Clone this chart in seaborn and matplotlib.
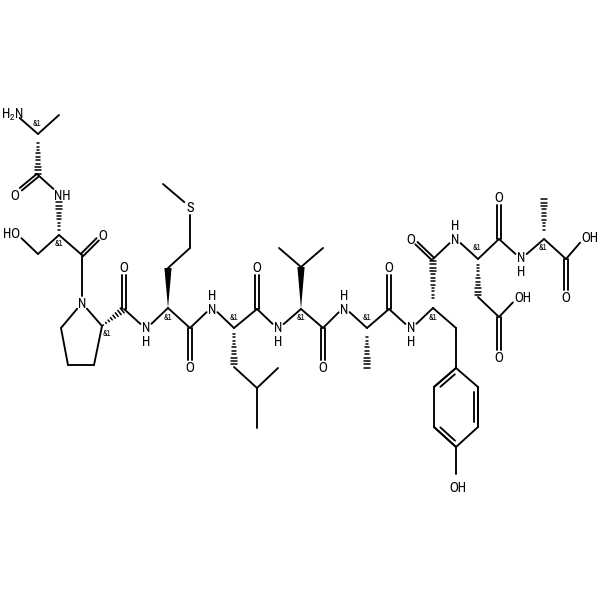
import numpy as np
import pandas as pd
import matplotlib
matplotlib.use('Agg')
import matplotlib.pyplot as plt
import seaborn as sns

# atoms (pixels)
atom_x = [14, 38, 59, 38, 15, 59, 59, 38, 16, 82, 103,          # 0-10  Ala, Ser
          82, 102, 61, 68, 94, 124, 124, 146,                   # 11-18 Pro
          168, 168, 190, 190, 163, 190, 190, 212,               # 19-26 Met
          234, 234, 257, 278, 257, 257, 257, 278,               # 27-34 Leu
          301, 301, 279, 323, 323, 323, 344,                    # 35-41 Val
          367, 367, 389, 389, 411,                              # 42-46 Ala
          433, 433, 411, 455, 456, 456, 478, 478, 456, 434, 434, 456,  # 47-58 Tyr
          478, 478, 499, 518, 499, 499, 499, 521,               # 59-66 Asp
          544, 544, 566, 585, 566]                              # 67-71 Ala
atom_y = [113, 134, 115, 175, 194, 194, 235, 254, 233, 255, 234,
          303, 326, 328, 365, 365, 309, 267, 329,
          308, 268, 248, 207, 184, 328, 367, 307,
          328, 367, 388, 368, 428, 309, 267, 329,
          309, 267, 248, 248, 328, 367, 307,
          328, 368, 309, 267, 329,
          308, 259, 238, 238, 328, 368, 387, 427, 447, 427, 387, 481,
          259, 297, 317, 297, 357, 239, 197, 259,
          239, 198, 259, 237, 297]

# atoms that carry a label, bonds stop short of them
hetero = [0, 4, 5, 8, 10, 11, 17, 18, 22, 25, 26, 33, 34, 40, 41, 45, 46,
          49, 50, 58, 62, 63, 65, 66, 70, 71]

single_bonds = [(0, 1), (1, 2), (3, 5), (6, 7), (7, 8), (6, 9), (9, 11),
                (11, 12), (11, 13), (13, 14), (14, 15), (15, 12), (16, 18), (18, 19),
                (20, 21), (21, 22), (22, 23), (19, 24), (24, 26), (26, 27),
                (28, 29), (29, 30), (29, 31), (27, 32), (32, 34), (34, 35),
                (36, 37), (36, 38), (35, 39), (39, 41), (41, 42), (42, 44), (44, 46),
                (46, 47), (48, 50), (50, 59), (47, 51), (51, 52), (53, 52), (53, 54),
                (54, 55), (55, 56), (56, 57), (57, 52), (55, 58),
                (60, 61), (61, 62), (59, 64), (64, 66), (66, 67), (67, 69), (69, 70)]
carbonyls = [(3, 4), (9, 10), (16, 17), (24, 25), (32, 33), (39, 40), (44, 45),
             (48, 49), (61, 63), (64, 65), (69, 71)]
ring_doubles = [(52, 57), (53, 54), (55, 56)]
hash_bonds = [(1, 3), (6, 5), (12, 16), (27, 28), (42, 43), (47, 48), (59, 60), (67, 68)]
wedge_bonds = [(19, 20), (35, 36)]

# text on the drawing
label_text = ['H$_2$N', 'O', 'NH', 'HO', 'O', 'N', 'O', 'N', 'H', 'S', 'O', 'N', 'H',
              'O', 'N', 'H', 'O', 'N', 'H', 'O', 'N', 'H', 'O', 'N', 'H', 'O', 'OH',
              'N', 'H', 'O', 'OH', 'O', 'OH']
label_x = [12, 15, 62, 12, 103, 82, 124, 146, 146, 190, 190, 212, 212,
           257, 278, 278, 323, 344, 344, 389, 411, 411, 411, 455, 455, 499, 523,
           521, 521, 499, 458, 566, 590]
label_y = [113, 194, 194, 233, 234, 303, 267, 326, 340, 207, 367, 308, 294,
           267, 326, 340, 367, 308, 294, 267, 326, 340, 238, 239, 225, 357, 297,
           256, 270, 197, 486, 297, 237]
stereo_x = [37, 59, 107, 168, 234, 301, 367, 433, 477, 543]
stereo_y = [123, 244, 333, 317, 317, 317, 317, 317, 248, 248]


def end_points(i, j, gap=7.5):
    a = np.array([atom_x[i], atom_y[i]], dtype=float)
    b = np.array([atom_x[j], atom_y[j]], dtype=float)
    u = (b - a) / np.hypot(*(b - a))
    if i in hetero:
        a = a + u * gap
    if j in hetero:
        b = b - u * gap
    return a, b, u


rows = []
uid = 0


def add(a, b):
    global uid
    rows.append((uid, a[0], a[1]))
    rows.append((uid, b[0], b[1]))
    uid += 1


for i, j in single_bonds:
    a, b, u = end_points(i, j)
    add(a, b)
for i, j in carbonyls:
    a, b, u = end_points(i, j)
    n = np.array([-u[1], u[0]]) * 1.6
    add(a + n, b + n)
    add(a - n, b - n)

# ring double bonds, inner line on the side of the ring centre
cx, cy = np.mean(atom_x[52:58]), np.mean(atom_y[52:58])
for i, j in ring_doubles:
    a, b, u = end_points(i, j)
    add(a, b)
    n = np.array([-u[1], u[0]])
    if np.dot(n, np.array([cx, cy]) - (a + b) / 2) < 0:
        n = -n
    add(a + n * 4 + u * 5, b + n * 4 - u * 5)

hash_rows = []
for k, (i, j) in enumerate(hash_bonds):
    a, b, u = end_points(i, j, gap=8)
    n = np.array([-u[1], u[0]])
    L = np.hypot(*(b - a))
    for s, t in enumerate(np.arange(0.06, 1.01, 3.4 / L)):
        p = a + (b - a) * t
        w = 3.4 * t
        hash_rows.append((f'{k}-{s}', *(p + n * w)))
        hash_rows.append((f'{k}-{s}', *(p - n * w)))

bonds = pd.DataFrame(rows, columns=['bond', 'x', 'y'])
hashes = pd.DataFrame(hash_rows, columns=['bond', 'x', 'y'])

sns.set_theme(style='white')
plt.rcParams['font.family'] = ['Archivo Narrow', 'PT Sans Narrow', 'Liberation Sans', 'DejaVu Sans']
plt.rcParams['mathtext.default'] = 'regular'

fig = plt.figure(figsize=(6, 6), dpi=100, facecolor='white')
ax = fig.add_axes([0, 0, 1, 1])

sns.lineplot(data=bonds, x='x', y='y', units='bond', estimator=None, sort=False,
             color='black', linewidth=1.35, ax=ax, legend=False)
sns.lineplot(data=hashes, x='x', y='y', units='bond', estimator=None, sort=False,
             color='black', linewidth=1.1, ax=ax, legend=False)

for i, j in wedge_bonds:
    a, b, u = end_points(i, j)
    n = np.array([-u[1], u[0]]) * 3.6
    ax.fill([a[0], (b + n)[0], (b - n)[0]], [a[1], (b + n)[1], (b - n)[1]],
            color='black', linewidth=0)

for x, y, s in zip(label_x, label_y, label_text):
    ax.text(x, y, s, fontsize=10, color='black', ha='center', va='center_baseline')
for x, y in zip(stereo_x, stereo_y):
    ax.text(x, y, '&1', fontsize=6, color='black', ha='center', va='center')

ax.set_xlim(0, 600)
ax.set_ylim(600, 0)
ax.axis('off')

fig.savefig('out.png', dpi=100, facecolor='white')
